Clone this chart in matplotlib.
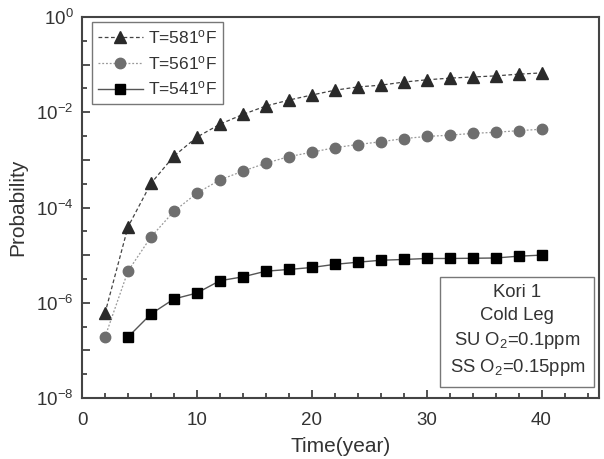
import matplotlib
matplotlib.use("Agg")
import matplotlib.pyplot as plt
import numpy as np
from matplotlib.ticker import FixedLocator, NullFormatter

plt.rcParams['font.family'] = ['Liberation Sans', 'DejaVu Sans']
plt.rcParams['mathtext.default'] = 'regular'

years_581 = [2, 4, 6, 8, 10, 12, 14, 16, 18, 20, 22, 24, 26, 28, 30, 32, 34, 36, 38, 40]
prob_581 = [6e-7, 3.9e-5, 3.2e-4, 1.2e-3, 3.0e-3, 5.6e-3, 9.0e-3, 1.35e-2, 1.8e-2, 2.3e-2,
            2.9e-2, 3.4e-2, 3.7e-2, 4.3e-2, 4.8e-2, 5.2e-2, 5.5e-2, 5.8e-2, 6.3e-2, 6.7e-2]

years_561 = [2, 4, 6, 8, 10, 12, 14, 16, 18, 20, 22, 24, 26, 28, 30, 32, 34, 36, 38, 40]
prob_561 = [1.9e-7, 4.6e-6, 2.4e-5, 8.3e-5, 2.0e-4, 3.8e-4, 5.8e-4, 8.5e-4, 1.17e-3, 1.45e-3,
            1.8e-3, 2.1e-3, 2.4e-3, 2.8e-3, 3.1e-3, 3.3e-3, 3.6e-3, 3.8e-3, 4.1e-3, 4.4e-3]

years_541 = [4, 6, 8, 10, 12, 14, 16, 18, 20, 22, 24, 26, 28, 30, 32, 34, 36, 38, 40]
prob_541 = [1.9e-7, 5.8e-7, 1.2e-6, 1.6e-6, 2.9e-6, 3.5e-6, 4.6e-6, 5.0e-6, 5.5e-6, 6.4e-6,
            7.1e-6, 7.8e-6, 8.1e-6, 8.5e-6, 8.5e-6, 8.6e-6, 8.7e-6, 9.5e-6, 1.0e-5]

labels = ['T=581$^{o}$F', 'T=561$^{o}$F', 'T=541$^{o}$F']
x_ticks = [0, 10, 20, 30, 40]
y_label_exps = [0, -2, -4, -6, -8]

fig = plt.figure(figsize=(6.04, 4.59), dpi=100)
ax = fig.add_axes([82/604, 1-398/459, (599-82)/604, (398-17)/459])

ax.plot(years_581, prob_581, linestyle=(0, (3, 2)), color='#444444', lw=0.9,
        marker='^', ms=8, mfc='#2a2a2a', mec='#2a2a2a', label=labels[0])
ax.plot(years_561, prob_561, linestyle=(0, (1.5, 1.5)), color='#999999', lw=0.9,
        marker='o', ms=7.5, mfc='#6e6e6e', mec='#6e6e6e', label=labels[1])
ax.plot(years_541, prob_541, linestyle='-', color='#555555', lw=1.0,
        marker='s', ms=6.5, mfc='#000000', mec='#000000', label=labels[2])

ax.set_yscale('log')
ax.set_xlim(0, 45)
ax.set_ylim(1e-8, 1)

ax.set_xticks(x_ticks)
ax.set_xticks(np.arange(0, 45, 2), minor=True)
ax.yaxis.set_major_locator(FixedLocator([10.0**k for k in range(-8, 1)]))
ax.yaxis.set_minor_locator(FixedLocator([10.0**(k + 0.5) for k in range(-8, 0)]))
ax.yaxis.set_minor_formatter(NullFormatter())
ylabels = []
for k in range(-8, 1):
    if k in y_label_exps:
        ylabels.append(r'$10^{%d}$' % k)
    else:
        ylabels.append('')
ax.set_yticklabels(ylabels)

tc = '#333333'
ax.tick_params(which='both', direction='in', colors=tc, labelsize=13.5, width=1.2)
ax.tick_params(which='major', length=6)
ax.tick_params(which='minor', length=3.5)
ax.tick_params(axis='y', pad=6)
ax.tick_params(axis='x', pad=10)
for s in ax.spines.values():
    s.set_color('#444444')
    s.set_linewidth(1.5)

ax.set_xlabel('Time(year)', fontsize=15, color=tc, labelpad=6)
ax.set_ylabel('Probability', fontsize=15, color=tc, labelpad=6)

leg = ax.legend(loc='upper left', bbox_to_anchor=(0.019, 0.987), fontsize=12.5,
                frameon=True, fancybox=False, edgecolor='#555555', handlelength=2.6,
                borderpad=0.35, labelspacing=0.45, handletextpad=0.3, borderaxespad=0)
leg.get_frame().set_linewidth(1.0)
for t in leg.get_texts():
    t.set_color(tc)

ax.text(0.842, 0.176, 'Kori 1\nCold Leg\nSU O$_2$=0.1ppm\nSS O$_2$=0.15ppm',
        transform=ax.transAxes, ha='center', va='center', fontsize=13.3, color=tc,
        linespacing=1.4,
        bbox=dict(boxstyle='square,pad=0.5', fc='white', ec='#777777', lw=1.0))

fig.savefig('out.png', dpi=100)
